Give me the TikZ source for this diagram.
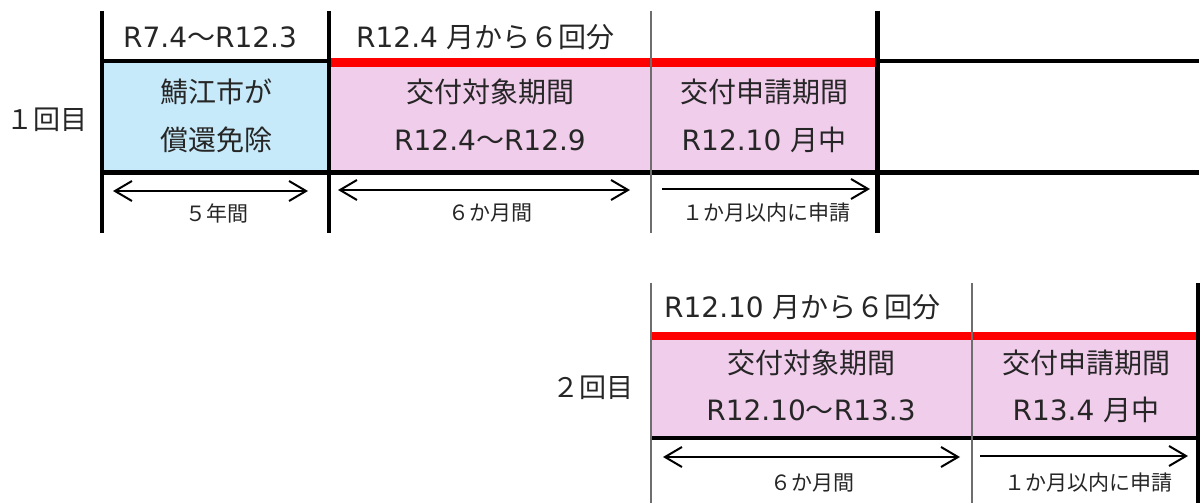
\documentclass[tikz,border=0pt]{standalone}
\usepackage{fontspec}
\setmainfont{Noto Sans CJK JP}
\newfontfamily\lat{DejaVu Sans}
\usetikzlibrary{arrows.meta}
\definecolor{cellblue}{RGB}{199,234,250}
\definecolor{cellpink}{RGB}{241,205,236}
\definecolor{thingray}{RGB}{110,110,110}
\definecolor{barred}{RGB}{255,0,0}
\tikzset{
  big/.style={font=\fontsize{28}{32}\selectfont, inner sep=0pt, text=black!85},
  lbl/.style={font=\fontsize{27}{32}\selectfont, inner sep=0pt, text=black!85},
  small/.style={font=\fontsize{21}{24}\selectfont, inner sep=0pt, text=black!85},
  thick line/.style={line width=4.5pt, black},
  thin line/.style={line width=1.5pt, thingray},
  red bar/.style={line width=8.5pt, barred},
  span arrow/.style={line width=2pt, {Straight Barb[length=17pt,width=20pt]}-{Straight Barb[length=17pt,width=20pt]}},
  one arrow/.style={line width=2pt, -{Straight Barb[length=17pt,width=20pt]}},
}
\begin{document}
\begin{tikzpicture}[x=1pt,y=-1pt]
\useasboundingbox (0,0) rectangle (1203,503);
\fill[white] (0,0) rectangle (1203,503);
% ---------- first round ----------
\fill[cellblue] (102,61) rectangle (329,172);
\fill[cellpink] (329,61) rectangle (877,172);
\draw[thick line] (102,61) -- (329,61);
\draw[red bar] (329,62.5) -- (877,62.5);
\draw[thick line] (877,61) -- (1199,61);
\draw[thick line] (102,172.5) -- (1199,172.5);
\draw[thick line] (102,11) -- (102,233);
\draw[thick line] (329,11) -- (329,233);
\draw[thin line] (651,11) -- (651,233);
\draw[thick line] (877.5,11) -- (877.5,233);

\node[lbl] (r1) at (47,120) {１回目};
\node[big] (h1a) at (210,37) {{\lat R7.4}～{\lat R12.3}};
\node[big, anchor=west] (h1b) at (356,37) {{\lat R12.4 }月から６回分};
\node[big] (c1a1) at (216,92) {鯖江市が};
\node[big] (c1a2) at (216,140) {償還免除};
\node[big] (c1b1) at (490,92) {交付対象期間};
\node[big] (c1b2) at (490,140) {{\lat R12.4}～{\lat R12.9}};
\node[big] (c1c1) at (764,92) {交付申請期間};
\node[big] (c1c2) at (764,140) {{\lat R12.10 }月中};

\coordinate (a1s) at (113,191); \coordinate (a1e) at (308,191);
\coordinate (a2s) at (338,190); \coordinate (a2e) at (630,190);
\coordinate (a3s) at (662,189); \coordinate (a3e) at (870,189);
\draw[span arrow] (a1s) -- (a1e);
\draw[span arrow] (a2s) -- (a2e);
\draw[one arrow] (a3s) -- (a3e);
\node[small] (l1a) at (217,213) {５年間};
\node[small] (l1b) at (490,213) {６か月間};
\node[small] (l1c) at (766,213) {１か月以内に申請};

% ---------- second round ----------
\fill[cellpink] (651,336) rectangle (1198,438);
\draw[red bar] (651,336) -- (1198,336);
\draw[thick line] (651,438) -- (1198,438);
\draw[thin line] (651,283) -- (651,503);
\draw[thin line] (972,283) -- (972,503);
\draw[thick line] (1198,283) -- (1198,503);

\node[lbl] (r2) at (593,388) {２回目};
\node[big, anchor=west] (h2) at (664,307) {{\lat R12.10 }月から６回分};
\node[big] (c2a1) at (811,363) {交付対象期間};
\node[big] (c2a2) at (811,410) {{\lat R12.10}～{\lat R13.3}};
\node[big] (c2b1) at (1086,363) {交付申請期間};
\node[big] (c2b2) at (1086,410) {{\lat R13.4 }月中};

\coordinate (b1s) at (663,457); \coordinate (b1e) at (960,457);
\coordinate (b2s) at (980,456); \coordinate (b2e) at (1188,456);
\draw[span arrow] (b1s) -- (b1e);
\draw[one arrow] (b2s) -- (b2e);
\node[small] (l2a) at (812,483) {６か月間};
\node[small] (l2b) at (1088,483) {１か月以内に申請};
\end{tikzpicture}
\end{document}
